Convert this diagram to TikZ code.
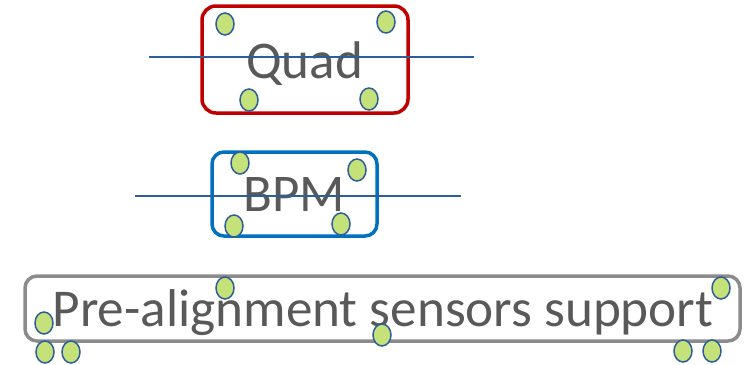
\documentclass[tikz,border=0pt]{standalone}
\usepackage{fontspec}
\setmainfont{Carlito}
\definecolor{quadred}{HTML}{C00000}
\definecolor{bpmblue}{HTML}{0070C0}
\definecolor{supgray}{HTML}{8C8C8C}
\definecolor{txtgray}{HTML}{595959}
\definecolor{beamblue}{HTML}{2E5E9A}
\definecolor{sensgreen}{HTML}{C5E17A}
\tikzset{
  frame/.style={draw, line width=3.5pt, rounded corners=14pt, inner sep=0pt},
  lbl/.style={text=txtgray, anchor=base, inner sep=0pt, font=\fontsize{53}{53}\selectfont},
  beam/.style={draw=beamblue, line width=1.8pt},
  sensor/.style={ellipse, draw=beamblue, fill=sensgreen, line width=1.5pt, minimum width=18pt, minimum height=22pt, inner sep=0pt}
}
\usetikzlibrary{shapes.geometric}
\begin{document}
\begin{tikzpicture}[x=1pt,y=-1pt]
\useasboundingbox (0,0) rectangle (749,364);
% boxes
\node[frame, draw=quadred, minimum width=206pt, minimum height=107pt] (quad) at (305,59.5) {};
\node[frame, draw=bpmblue, minimum width=165pt, minimum height=84pt, rounded corners=12pt] (bpm) at (294.5,194) {};
\node[frame, draw=supgray, minimum width=715pt, minimum height=65pt, rounded corners=12pt] (sup) at (382.5,308.5) {};
% labels
\node[lbl] (quadtxt) at (304.5,78) {Quad};
\node[lbl] (bpmtxt) at (294,211) {BPM};
\node[lbl, font=\fontsize{53.2}{53.2}\selectfont] (suptxt) at (383,326) {Pre-alignment sensors support};
% beam lines
\coordinate (qa) at (149,57);
\coordinate (qb) at (474,57);
\coordinate (ba) at (135,196);
\coordinate (bb) at (461,196);
\draw[beam] (qa) -- (qb);
\draw[beam] (ba) -- (bb);
% sensors
\node[sensor] (q1) at (225,24) {};
\node[sensor] (q2) at (386,22) {};
\node[sensor] (q3) at (249,100) {};
\node[sensor] (q4) at (369,99) {};
\node[sensor] (b1) at (240,163) {};
\node[sensor] (b2) at (357,170) {};
\node[sensor] (b3) at (234,226) {};
\node[sensor] (b4) at (341,224) {};
\node[sensor] (s1) at (44,323) {};
\node[sensor] (s2) at (225,288) {};
\node[sensor] (s3) at (45,352) {};
\node[sensor] (s4) at (71,352) {};
\node[sensor] (s5) at (382,335) {};
\node[sensor] (s6) at (721,288) {};
\node[sensor] (s7) at (683,351) {};
\node[sensor] (s8) at (712,351) {};
\end{tikzpicture}
\end{document}
